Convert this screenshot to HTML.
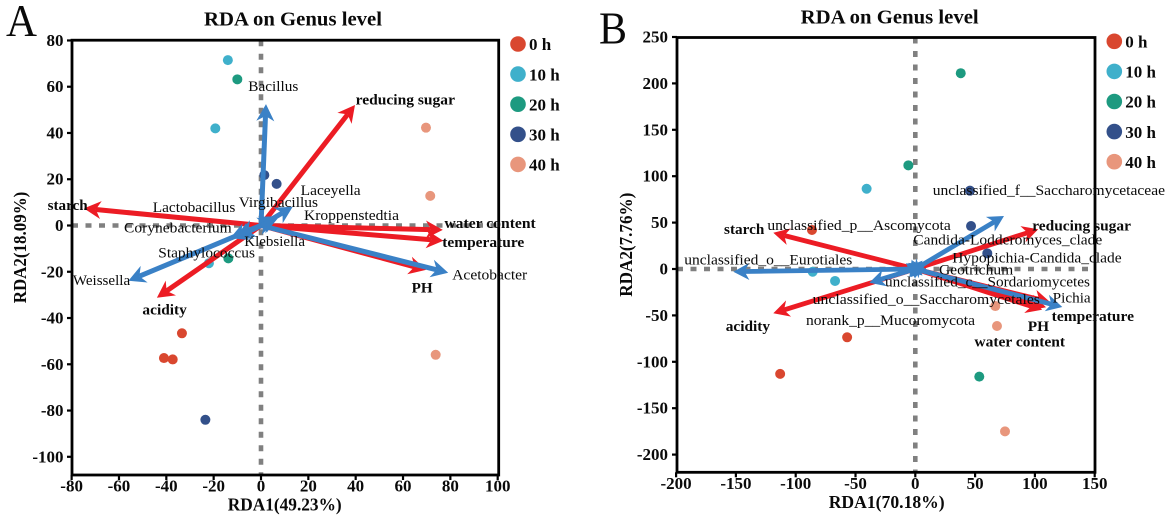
<!DOCTYPE html>
<html lang="en">
<head>
<meta charset="utf-8">
<title>RDA on Genus level</title>
<style>
  html, body { margin: 0; padding: 0; background: #fff; }
  #figure { display: block; width: 1170px; height: 519px; filter: blur(0.3px); font-family: "Liberation Serif", serif; }
  text { fill: #0a0a0a; }
  .bold { font-weight: bold; }
</style>
</head>
<body>
<svg id="figure" xmlns="http://www.w3.org/2000/svg" width="1170" height="519" viewBox="0 0 1170 519">
  <g id="panel-a">
    <text x="6" y="36" font-size="46" textLength="31" lengthAdjust="spacingAndGlyphs">A</text>
    <text class="bold" x="204" y="25.3" font-size="20.5" textLength="178" lengthAdjust="spacingAndGlyphs">RDA on Genus level</text>
    <text class="bold" x="227.7" y="510.7" font-size="18" textLength="114" lengthAdjust="spacingAndGlyphs">RDA1(49.23%)</text>
    <text class="bold" transform="translate(26 303.3) rotate(-90)" font-size="18" textLength="111.6" lengthAdjust="spacingAndGlyphs">RDA2(18.09%)</text>
  </g>
  <g id="panel-b">
    <text x="599" y="43.3" font-size="46" textLength="28" lengthAdjust="spacingAndGlyphs">B</text>
    <text class="bold" x="800.7" y="23.3" font-size="20.5" textLength="178" lengthAdjust="spacingAndGlyphs">RDA on Genus level</text>
    <text class="bold" x="828.7" y="508" font-size="18" textLength="116" lengthAdjust="spacingAndGlyphs">RDA1(70.18%)</text>
    <text class="bold" transform="translate(632 296.7) rotate(-90)" font-size="18" textLength="104" lengthAdjust="spacingAndGlyphs">RDA2(7.76%)</text>
  </g>
</svg>
<script>
/* ---------- data ---------- */
const groupNames = ['0 h', '10 h', '20 h', '30 h', '40 h'];

const xTicksA = [-80, -60, -40, -20, 0, 20, 40, 60, 80, 100];
const yTicksA = [80, 60, 40, 20, 0, -20, -40, -60, -80, -100];
const sampleGroupA = [0, 0, 0, 1, 1, 1, 2, 2, 3, 3, 3, 4, 4, 4];
const sampleRda1A = [-33.4, -41, -37.3, -14, -19.3, -22, -10, -13.8, 1.4, 6.6, -23.5, 69.7, 71.5, 73.8];
const sampleRda2A = [-46.6, -57.3, -57.9, 71.5, 42, -16.3, 63.2, -14.2, 21.8, 18, -84, 42.3, 12.8, -55.9];
const envNamesA = ['reducing sugar', 'starch', 'water content', 'temperature', 'PH', 'acidity'];
const envRda1A = [39.7, -74.8, 76.8, 77, 69.7, -44];
const envRda2A = [52.1, 7.4, -1.9, -6.6, -19.2, -31.2];
const taxaNamesA = ['Bacillus', 'Virgibacillus', 'Weissella', 'Acetobacter', 'Lactobacillus', 'Corynebacterium', 'Staphylococcus', 'Klebsiella', 'Laceyella', 'Kroppenstedtia'];
const taxaRda1A = [2.1, 13.4, -56, 79.1, -10, -13, -11, 6, 7, 7];
const taxaRda2A = [52.5, 8.1, -23.9, -20.4, -4, -5.5, -5.5, 2, 4, 3];

const xTicksB = [-200, -150, -100, -50, 0, 50, 100, 150];
const yTicksB = [250, 200, 150, 100, 50, 0, -50, -100, -150, -200];
const sampleGroupB = [0, 0, 0, 1, 1, 1, 2, 2, 2, 3, 3, 3, 4, 4, 4];
const sampleRda1B = [-86.4, -113, -57, -40.7, -85.8, -67.1, 38, -5.8, 53.5, 45.7, 46.6, 60.2, 66.9, 68.3, 75];
const sampleRda2B = [42, -113, -73.6, 86.5, -2.9, -12.9, 211, 111.7, -116, 84.4, 46.3, 16.9, -39.9, -61.4, -175];
const envNamesB = ['starch', 'acidity', 'reducing sugar', 'temperature', 'PH', 'water content'];
const envRda1B = [-118.7, -118.7, 102.8, 112.6, 109.3, 106];
const envRda2B = [39.1, -47.7, 42.8, -35.6, -41.3, -44];
const taxaNamesB = ['unclassified_f__Saccharomycetaceae', 'unclassified_o__Eurotiales', 'unclassified_o__Saccharomycetales', 'Pichia', 'unclassified_p__Ascomycota', 'Candida-Lodderomyces_clade', 'Hypopichia-Candida_clade', 'Geotrichum', 'unclassified_c__Sordariomycetes', 'norank_p__Mucoromycota'];
const taxaRda1B = [74.2, -152.2, -38.5, 122.9, -8, 6, 9, 10, 6, -5];
const taxaRda2B = [57.1, -2.9, -14.8, -40.9, 6, 9, 5, -1, -7, -9];

/* ---------- layout and style (not data) ---------- */
const groupColors = ['#d9472f', '#3fb0cb', '#1d9a80', '#33508a', '#e8967c'];
const RED = '#ec1c24';
const BLUE = '#3a81c6';
const GREY = '#808080';
const SVG_NS = 'http://www.w3.org/2000/svg';

/* label placement relative to the arrow tip: [dx, dy, rendered width] */
const labelPlacementA = {
  'reducing sugar': [0.7, -0.7, 99.3], 'starch': [-36.3, 1.7, 40], 'water content': [1.6, -1.7, 91.4],
  'temperature': [-1, 6.3, 82], 'PH': [-14.3, 22.7, 21], 'acidity': [-14.4, 16.6, 44.4],
  'Bacillus': [-17.7, -13.3, 50], 'Virgibacillus': [-54, 0.3, 79.3], 'Weissella': [-55.6, 4.3, 57.3],
  'Acetobacter': [4, 6.6, 75], 'Lactobacillus': [-84.6, -22.8, 82.6], 'Corynebacterium': [-106.2, -5.9, 107.7],
  'Staphylococcus': [-76.7, 19.4, 96.7], 'Klebsiella': [-30.9, 24.9, 60.7], 'Laceyella': [23.1, -21.2, 60],
  'Kroppenstedtia': [26.4, 1.4, 95]
};
const labelPlacementB = {
  'starch': [-49.3, 1.3, 40.3], 'acidity': [-47.6, 17.7, 44.3], 'reducing sugar': [-6, 1.4, 98.7],
  'temperature': [1.7, 19, 82.3], 'PH': [-18.3, 23.7, 21.3], 'water content': [-67.7, 36.9, 90.7],
  'unclassified_f__Saccharomycetaceae': [-71.3, -21, 232.3], 'unclassified_o__Eurotiales': [-49, -7.4, 168],
  'unclassified_o__Saccharomycetales': [-56.6, 21.5, 227.3], 'Pichia': [-9.6, -4.3, 38],
  'unclassified_p__Ascomycota': [-138.4, -33.4, 183.4], 'Candida-Lodderomyces_clade': [-9.2, -16.3, 189],
  'Hypopichia-Candida_clade': [26.2, -2.1, 169.4], 'Geotrichum': [11.7, 4.4, 74.3],
  'unclassified_c__Sordariomycetes': [-37.5, 11.2, 205], 'norank_p__Mucoromycota': [-103.3, 47.6, 169]
};

function make(tag, attrs, parent, text) {
  const node = document.createElementNS(SVG_NS, tag);
  for (const key in attrs) node.setAttribute(key, attrs[key]);
  if (text !== undefined) node.textContent = text;
  parent.appendChild(node);
  return node;
}

function drawArrow(parent, x0, y0, x1, y1, color, headLen, headHalf, shaftWidth) {
  const len = Math.hypot(x1 - x0, y1 - y0) || 1;
  const ux = (x1 - x0) / len, uy = (y1 - y0) / len;
  const px = -uy, py = ux;
  const notch = headLen * 0.7;
  const shaft = make('line', {
    x1: x0, y1: y0, x2: x1 - ux * notch, y2: y1 - uy * notch,
    stroke: color, 'stroke-width': shaftWidth
  }, parent);
  
  
  const pts = [
    [x1, y1],
    [x1 - ux * headLen + px * headHalf, y1 - uy * headLen + py * headHalf],
    [x1 - ux * notch, y1 - uy * notch],
    [x1 - ux * headLen - px * headHalf, y1 - uy * headLen - py * headHalf]
  ];
  const head = make('polygon', {
    points: pts.map(function (p) { return p[0].toFixed(1) + ',' + p[1].toFixed(1); }).join(' '),
    fill: color
  }, parent);
  
  
}

function drawPanel(p) {
  const root = document.getElementById(p.id);
  const x = function (v) { return p.x0 + p.xScale * v; };
  const y = function (v) { return p.y0 - p.yScale * v; };

  /* zero reference lines */
  const vZero = make('line', { x1: x(0), y1: p.top, x2: x(0), y2: p.bottom, stroke: GREY, 'stroke-width': 4.6, 'stroke-dasharray': '6 7.5' }, root);
  
  
  const hZero = make('line', { x1: p.left, y1: y(0), x2: p.right, y2: y(0), stroke: GREY, 'stroke-width': 4.6, 'stroke-dasharray': '6 7.5' }, root);
  
  

  /* plot frame */
  const frame = make('rect', { x: p.left, y: p.top, width: p.right - p.left, height: p.bottom - p.top, fill: 'none', stroke: '#000', 'stroke-width': 2.8 }, root);
  
  

  /* ticks */
  p.xTicks.forEach(function (v) {
    const tick = make('line', { x1: x(v), y1: p.bottom, x2: x(v), y2: p.bottom + 5, stroke: '#000', 'stroke-width': 2.2 }, root);
    
    
    const label = make('text', { x: x(v), y: p.xLabelBase, 'text-anchor': 'middle', 'font-size': 17, class: 'bold' }, root, String(v));
    
    
  });
  p.yTicks.forEach(function (v) {
    const tick = make('line', { x1: p.left - 5, y1: y(v), x2: p.left, y2: y(v), stroke: '#000', 'stroke-width': 2.2 }, root);
    
    
    const label = make('text', { x: p.yLabelRight, y: y(v) + 5.5, 'text-anchor': 'end', 'font-size': 17, class: 'bold' }, root, String(v));
    
    
  });

  /* sample points */
  p.sampleGroup.forEach(function (g, i) {
    const dot = make('circle', { cx: x(p.sampleRda1[i]), cy: y(p.sampleRda2[i]), r: 5, fill: groupColors[g] }, root);
    
    
  });

  /* arrows: environmental factors (red), taxa (blue) */
  p.envNames.forEach(function (name, i) {
    drawArrow(root, x(0), y(0), x(p.envRda1[i]), y(p.envRda2[i]), RED, p.headLen, p.headHalf, p.shaftWidth);
  });
  p.taxaNames.forEach(function (name, i) {
    drawArrow(root, x(0), y(0), x(p.taxaRda1[i]), y(p.taxaRda2[i]), BLUE, p.headLen, p.headHalf, p.shaftWidth);
  });

  /* arrow labels */
  p.envNames.forEach(function (name, i) {
    const place = p.placement[name];
    const label = make('text', {
      x: x(p.envRda1[i]) + place[0], y: y(p.envRda2[i]) + place[1], 'font-size': 15, class: 'bold',
      textLength: place[2], lengthAdjust: 'spacingAndGlyphs'
    }, root, name);
    
    
  });
  p.taxaNames.forEach(function (name, i) {
    const place = p.placement[name];
    const label = make('text', {
      x: x(p.taxaRda1[i]) + place[0], y: y(p.taxaRda2[i]) + place[1], 'font-size': 15,
      textLength: place[2], lengthAdjust: 'spacingAndGlyphs'
    }, root, name);
    
    
  });

  /* legend */
  groupNames.forEach(function (name, i) {
    const swatch = make('circle', { cx: p.legendX, cy: p.legendTop + i * p.legendStep, r: 7.8, fill: groupColors[i] }, root);
    
    
    const label = make('text', { x: p.legendX + 11, y: p.legendTop + i * p.legendStep + 6.2, 'font-size': 17, class: 'bold' }, root, name);
    
    
  });
}

drawPanel({
  id: 'panel-a', left: 72, right: 498.7, top: 40.2, bottom: 475,
  x0: 261, xScale: 2.367, y0: 225.5, yScale: 2.313,
  xTicks: xTicksA, yTicks: yTicksA, xLabelBase: 491.7, yLabelRight: 63.5,
  sampleGroup: sampleGroupA, sampleRda1: sampleRda1A, sampleRda2: sampleRda2A,
  envNames: envNamesA, envRda1: envRda1A, envRda2: envRda2A,
  taxaNames: taxaNamesA, taxaRda1: taxaRda1A, taxaRda2: taxaRda2A,
  placement: labelPlacementA, headLen: 17, headHalf: 9, shaftWidth: 5,
  legendX: 518, legendTop: 44, legendStep: 30.1
});
drawPanel({
  id: 'panel-b', left: 677, right: 1095, top: 37.5, bottom: 472.3,
  x0: 915.3, xScale: 1.196, y0: 269, yScale: 0.928,
  xTicks: xTicksB, yTicks: yTicksB, xLabelBase: 489, yLabelRight: 668,
  sampleGroup: sampleGroupB, sampleRda1: sampleRda1B, sampleRda2: sampleRda2B,
  envNames: envNamesB, envRda1: envRda1B, envRda2: envRda2B,
  taxaNames: taxaNamesB, taxaRda1: taxaRda1B, taxaRda2: taxaRda2B,
  placement: labelPlacementB, headLen: 16, headHalf: 8.5, shaftWidth: 4.8,
  legendX: 1114.3, legendTop: 41.3, legendStep: 30.1
});
</script>
</body>
</html>
